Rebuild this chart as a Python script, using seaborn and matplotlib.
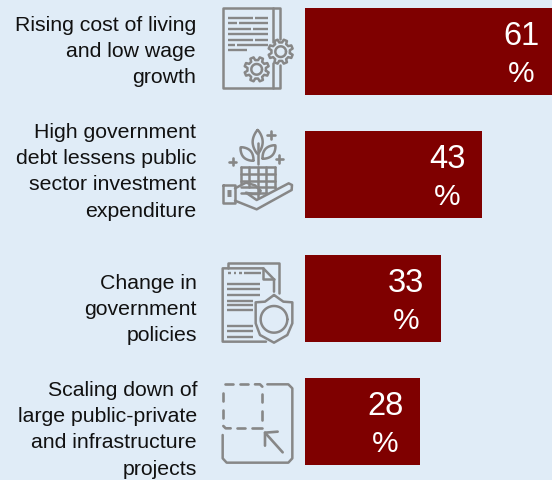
import numpy as np
import pandas as pd
import matplotlib
matplotlib.use("Agg")
import matplotlib.pyplot as plt
import seaborn as sns

categories = ["Cost of living", "Government debt", "Policy change", "Scaling down"]
values = [61, 43, 33, 28]
label_lines = [
    ["Rising cost of living", "and low wage", "growth"],
    ["High government", "debt lessens public", "sector investment", "expenditure"],
    ["Change in", "government", "policies"],
    ["Scaling down of", "large public-private", "and infrastructure", "projects"],
]
label_first_baselines = [31, 138, 289, 396]
label_right_edges = [196, 196, 197, 197]

BACKGROUND = "#E0ECF7"
BAR = "#7F0000"
ICON = "#878787"
W, H = 552, 480

sns.set_theme(style="white")
plt.rcParams["font.family"] = ["Liberation Sans", "DejaVu Sans"]

fig = plt.figure(figsize=(W / 100, H / 100), dpi=100, facecolor=BACKGROUND)

# Bar panel runs from x=305 to the right edge; the longest bar runs off it.
ax = fig.add_axes([305 / W, 0, 247 / W, 1])
ax.set_facecolor("none")
data = pd.DataFrame({"category": categories, "value": values})
sns.barplot(data=data, x="value", y="category", orient="h", color=BAR,
            saturation=1, width=0.706, ax=ax, linewidth=0)
ax.set_xlim(0, 60.1)
ax.set_ylim(3.475, -0.418)
ax.axis("off")

px = 0.72
for i, v in enumerate(values):
    ax.annotate(str(v), xy=(v, i), xytext=(-34.5 * px, 6.5 * px), textcoords="offset points",
                ha="center", va="baseline", color="white", fontsize=23.5,
                annotation_clip=False)
    ax.annotate("%", xy=(v, i), xytext=(-34.5 * px, -30.5 * px), textcoords="offset points",
                ha="center", va="baseline", color="white", fontsize=21.5,
                annotation_clip=False)

# Overlay in pixel coordinates for the row captions and line icons.
ov = fig.add_axes([0, 0, 1, 1])
ov.set_xlim(0, W)
ov.set_ylim(H, 0)
ov.axis("off")
ov.patch.set_alpha(0)

for lines, base, right in zip(label_lines, label_first_baselines, label_right_edges):
    for j, line in enumerate(lines):
        ov.text(right, base + j * 26.2, line, ha="right", va="baseline",
                fontsize=15.3, color="#111111")


def stroke(origin, pts, lw=1.8, closed=False, fill=None):
    """Stroke a polyline given in thirds of a pixel relative to an icon origin."""
    a = np.asarray(pts, dtype=float) / 3 + origin
    if closed:
        a = np.vstack([a, a[0]])
    if fill:
        ov.fill(a[:, 0], a[:, 1], color=fill, lw=0)
    ov.plot(a[:, 0], a[:, 1], color=ICON, lw=lw, solid_capstyle="round",
            solid_joinstyle="round")


def hbars(origin, rows, lw=1.7):
    for y, x0, x1 in rows:
        ov.plot(np.array([x0, x1]) / 3 + origin[0], np.array([y, y]) / 3 + origin[1],
                color=ICON, lw=lw, solid_capstyle="butt")


def circle(origin, c, r, lw=1.8, fill=None):
    t = np.linspace(0, 2 * np.pi, 80)
    stroke(origin, np.c_[c[0] + r * np.cos(t), c[1] + r * np.sin(t)], lw=lw, fill=fill)


def gear(origin, c, outer=37, inner=28, hub=16, teeth=8):
    angles, radii = [], []
    step = 2 * np.pi / teeth
    for k in range(teeth):
        a = k * step + step / 2
        angles += [a - step * 0.30, a - step * 0.18, a + step * 0.18, a + step * 0.30]
        radii += [inner, outer, outer, inner]
    angles, radii = np.array(angles), np.array(radii)
    pts = np.c_[c[0] + radii * np.cos(angles), c[1] + radii * np.sin(angles)]
    stroke(origin, pts, closed=True, fill=BACKGROUND)
    circle(origin, c, hub)


def lens(origin, p0, p1, bulge):
    p0, p1 = np.array(p0, float), np.array(p1, float)
    d = p1 - p0
    n = np.array([-d[1], d[0]]) / np.hypot(*d)
    t = np.linspace(0, 1, 30)[:, None]
    side = np.sin(np.pi * t) ** 0.8 * bulge
    a = p0 + t * d + side * n
    b = (p0 + t * d - side * n)[::-1]
    stroke(origin, np.vstack([a, b]), closed=True)


def plus(origin, c, s=11):
    stroke(origin, [(c[0] - s, c[1]), (c[0] + s, c[1])], lw=1.9)
    stroke(origin, [(c[0], c[1] - s), (c[0], c[1] + s)], lw=1.9)


# Document with two gears
o = np.array([210, 0])
stroke(o, [(210, 118), (210, 25), (38, 25), (38, 265), (210, 265), (210, 195)])
stroke(o, [(190, 25), (190, 125)])
stroke(o, [(190, 190), (190, 265)])
hbars(o, [(55, 55, 128), (55, 135, 175), (70, 55, 80), (70, 88, 175), (88, 55, 122),
          (88, 130, 175), (102, 55, 175), (120, 55, 128), (120, 136, 175), (136, 55, 75),
          (136, 82, 175), (151, 55, 110)])
gear(o, (212, 155))
gear(o, (140, 208))

# Plant growing out of a building held in a hand
o = np.array([210, 0])
lens(o, (143, 390), (143, 462), 15)
stroke(o, [(143, 430), (143, 492)])
lens(o, (130, 482), (92, 442), 14)
lens(o, (158, 476), (196, 436), 14)
plus(o, (183, 405))
plus(o, (68, 485))
plus(o, (208, 477))
for x, y1 in ((93, 550), (118, 560), (143, 590), (168, 580), (195, 565)):
    stroke(o, [(x, 502), (x, y1)])
for y, x1 in ((502, 195), (522, 195), (542, 195), (562, 195), (580, 170)):
    stroke(o, [(93, y), (x1, y)])
stroke(o, [(75, 565), (108, 548), (135, 556), (152, 572), (148, 582), (128, 582), (108, 578),
           (140, 600), (236, 550), (246, 555), (245, 570), (140, 628), (75, 602)],
       fill=BACKGROUND)
stroke(o, [(38, 555), (75, 555), (75, 608), (38, 608)], closed=True, fill=BACKGROUND)
hbars(o, [(580, 52, 62)], lw=5)

# Documents behind a shield
o = np.array([210, 240])
stroke(o, [(55, 85), (55, 68), (208, 68), (208, 160)])
stroke(o, [(192, 155), (192, 118), (160, 85), (38, 85), (38, 305), (168, 305)])
stroke(o, [(160, 85), (160, 118), (192, 118)])
hbars(o, [(100, 55, 62), (100, 72, 78), (100, 88, 95), (100, 103, 152)])
hbars(o, [(133, 52, 150), (148, 52, 150), (166, 52, 150), (182, 52, 128), (196, 52, 128),
          (211, 52, 128), (258, 52, 128), (274, 52, 128), (290, 52, 128)])
stroke(o, [(192, 165), (165, 185), (137, 187), (137, 250), (150, 285), (192, 308), (232, 285),
           (247, 250), (247, 187), (220, 185)], closed=True, fill=BACKGROUND)
circle(o, (192, 238), 40)

# Resize frame with a dashed inner square and an arrow
o = np.array([210, 240])
stroke(o, [(172, 433), (235, 433), (247, 445), (247, 655), (235, 668), (50, 668), (38, 655),
           (38, 585)])
for seg in ([(45, 433), (70, 433)], [(90, 433), (115, 433)], [(135, 433), (150, 433), (157, 440)],
            [(157, 462), (157, 487)], [(157, 512), (157, 540)],
            [(40, 458), (40, 483)], [(40, 510), (40, 535)],
            [(40, 558), (47, 565), (62, 565)], [(82, 565), (105, 565)], [(127, 565), (155, 565)]):
    stroke(o, seg, lw=1.9)
stroke(o, [(218, 637), (165, 578)], lw=1.9)
stroke(o, [(203, 575), (165, 578), (165, 617)], lw=1.9)

fig.savefig("out.png", dpi=100, facecolor=BACKGROUND)
